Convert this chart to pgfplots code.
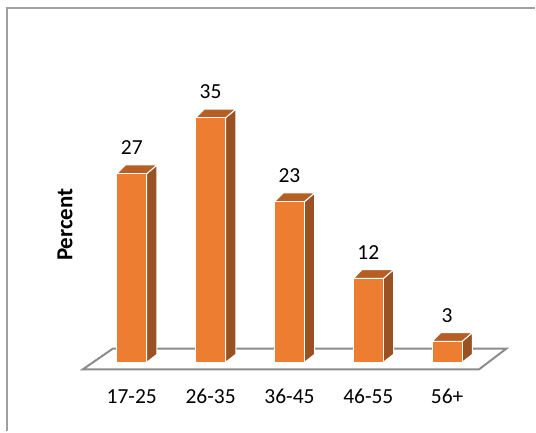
\documentclass[border=0pt]{standalone}
\usepackage{fontspec}
\setmainfont{Carlito}
\usepackage{pgfplots}
\usepackage{pgfplotstable}
\pgfplotsset{compat=1.18}
\definecolor{front}{HTML}{ED7D31}
\definecolor{side}{HTML}{9A5224}
\definecolor{topc}{HTML}{B65F25}
\definecolor{floorgray}{HTML}{8C8C8C}
\definecolor{framegray}{HTML}{A0A0A0}
\pgfplotstableread{
x v
0 27
1 35
2 23
3 12
4 3
}\datatable
\begin{document}
\begin{tikzpicture}
\fontsize{21.5bp}{25bp}\selectfont
\begin{axis}[
  width=536bp, height=432bp, scale only axis,
  xmin=-1.6709, xmax=5.1139, ymin=-9.857, ymax=51.857,
  axis line style={draw=none}, tick style={draw=none},
  xtick={0,1,2,3,4},
  xticklabels={17-25,26-35,36-45,46-55,56+},
  ytick=\empty,
  x tick label style={anchor=base, inner sep=0pt, yshift=28bp, font=\fontsize{21.5bp}{25bp}\selectfont},
  ylabel={\bfseries Percent},
  ylabel style={at={(axis description cs:0.1213,0.479)}, anchor=center, font=\fontsize{23bp}{27bp}\selectfont},
  /pgf/number format/assume math mode=true,
  clip=false,
]
% bounding box and frame
\path (rel axis cs:0,0) rectangle (rel axis cs:1,1);
\draw[framegray, line width=2bp] (rel axis cs:0.01306,0) -- (rel axis cs:0.01306,0.98148) -- (rel axis cs:1,0.98148);
% floor
\addplot[draw=floorgray, line width=2bp, fill=white, line join=miter] coordinates {(-0.62,-1) (4.405,-1) (4.75,1.96) (-0.24,1.96)} -- cycle;
% side faces
\addplot[fill=side, draw=white, line width=1bp] coordinates {(0.19,0) (0.32,1.15) (0.32,28.25) (0.19,27)} -- cycle;
\addplot[fill=side, draw=white, line width=1bp] coordinates {(1.19,0) (1.32,1.15) (1.32,36.25) (1.19,35)} -- cycle;
\addplot[fill=side, draw=white, line width=1bp] coordinates {(2.19,0) (2.32,1.15) (2.32,24.25) (2.19,23)} -- cycle;
\addplot[fill=side, draw=white, line width=1bp] coordinates {(3.19,0) (3.32,1.15) (3.32,13.25) (3.19,12)} -- cycle;
\addplot[fill=side, draw=white, line width=1bp] coordinates {(4.19,0) (4.32,1.15) (4.32,4.25) (4.19,3)} -- cycle;
% top faces
\addplot[fill=topc, draw=white, line width=1bp] coordinates {(-0.19,27) (0.19,27) (0.32,28.25) (-0.08,28.25)} -- cycle;
\addplot[fill=topc, draw=white, line width=1bp] coordinates {(0.81,35) (1.19,35) (1.32,36.25) (0.92,36.25)} -- cycle;
\addplot[fill=topc, draw=white, line width=1bp] coordinates {(1.81,23) (2.19,23) (2.32,24.25) (1.92,24.25)} -- cycle;
\addplot[fill=topc, draw=white, line width=1bp] coordinates {(2.81,12) (3.19,12) (3.32,13.25) (2.92,13.25)} -- cycle;
\addplot[fill=topc, draw=white, line width=1bp] coordinates {(3.81,3) (4.19,3) (4.32,4.25) (3.92,4.25)} -- cycle;
% front faces
\addplot[ybar, bar width=30bp, fill=front, draw=white, line width=1.2bp,
  nodes near coords,
  every node near coord/.append style={anchor=base, inner sep=0pt, yshift=19bp, text=black, font=\fontsize{21.5bp}{25bp}\selectfont}]
  table[x=x, y=v] {\datatable};
\end{axis}
\end{tikzpicture}
\end{document}
